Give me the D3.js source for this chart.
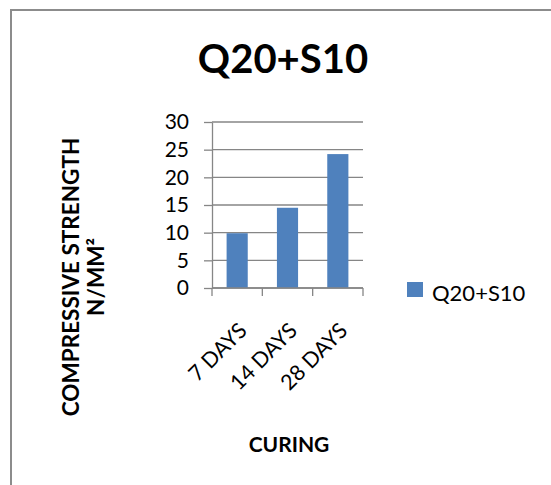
<!DOCTYPE html>
<html>
<head>
<meta charset="utf-8">
<script src="https://cdn.jsdelivr.net/npm/d3@7"></script>
<style>
  html, body { margin: 0; padding: 0; background: #fff; }
  svg { display: block; }
  text { font-family: Lato, "Open Sans", sans-serif; fill: #000; }
</style>
</head>
<body>
<svg id="chart" width="551" height="485"></svg>
<script>
// Compressive strength of the Q20+S10 mix at each curing age
const categories = ["7 DAYS", "14 DAYS", "28 DAYS"];
const seriesName = "Q20+S10";
const strengths = [9.9, 14.5, 24.2];
const yTicks = [0, 5, 10, 15, 20, 25, 30];

const svg = d3.select("#chart");
const gridColor = "#868686";
const barColor = "#4f81bd";

// Outer frame of the chart area
svg.append("rect")
  .attr("x", 11).attr("y", 10)
  .attr("width", 560).attr("height", 500)
  .attr("fill", "#fff")
  .attr("stroke", "#8c8c8c").attr("stroke-width", 2);

const plot = { left: 212, right: 363, top: 122, bottom: 288 };

const x = d3.scaleBand()
  .domain(categories)
  .range([plot.left, plot.right])
  .paddingInner(0.58)
  .paddingOuter(0.29);

const y = d3.scaleLinear()
  .domain([0, 30])
  .range([plot.bottom, plot.top]);

// Horizontal gridlines
svg.append("g")
  .selectAll("line")
  .data(yTicks)
  .join("line")
  .attr("x1", plot.left).attr("x2", plot.right)
  .attr("y1", d => y(d)).attr("y2", d => y(d))
  .attr("stroke", gridColor).attr("stroke-width", 1.3);

// Bars
svg.append("g")
  .selectAll("rect")
  .data(strengths)
  .join("rect")
  .attr("x", (d, i) => x(categories[i]))
  .attr("y", d => y(d))
  .attr("width", x.bandwidth())
  .attr("height", d => y(0) - y(d))
  .attr("fill", barColor);

// Y axis with outward tick marks
const yAxis = svg.append("g")
  .attr("transform", `translate(${plot.left},0)`)
  .call(d3.axisLeft(y).tickValues(yTicks).tickSize(8).tickSizeOuter(0).tickPadding(15));
yAxis.select(".domain").attr("stroke", gridColor).attr("stroke-width", 1.3);
yAxis.selectAll(".tick line").attr("stroke", gridColor).attr("stroke-width", 1.3);
yAxis.selectAll(".tick text")
  .style("font-size", "21px")
  .style("font-family", "Lato, sans-serif");

// X axis: baseline with tick marks at category boundaries
const xAxisG = svg.append("g");
xAxisG.append("line")
  .attr("x1", plot.left).attr("x2", plot.right)
  .attr("y1", y(0)).attr("y2", y(0))
  .attr("stroke", gridColor).attr("stroke-width", 1.3);
const boundaries = categories.map(c => x(c) - x.step() * x.paddingInner() / 2).concat([plot.right]);
boundaries[0] = plot.left;
xAxisG.selectAll("line.bound")
  .data(boundaries)
  .join("line")
  .attr("class", "bound")
  .attr("x1", d => d).attr("x2", d => d)
  .attr("y1", y(0)).attr("y2", y(0) + 8)
  .attr("stroke", gridColor).attr("stroke-width", 1.3);

// Rotated category labels
xAxisG.selectAll("text")
  .data(categories)
  .join("text")
  .attr("text-anchor", "end")
  .attr("transform", d => `translate(${x(d) + x.bandwidth() / 2 + 11},${y(0) + 44}) rotate(-45)`)
  .style("font-size", "21.5px")
  .text(d => d);

// Title
svg.append("text")
  .attr("x", 283).attr("y", 73)
  .attr("text-anchor", "middle")
  .style("font-size", "40px")
  .style("font-weight", "bold")
  .text(seriesName);

// Y axis title (two lines)
const yTitle = svg.append("text")
  .attr("transform", "translate(79,277) rotate(-90)")
  .attr("text-anchor", "middle")
  .style("font-size", "22.5px")
  .style("font-weight", "bold");
yTitle.append("tspan").attr("x", 0).attr("dy", 0).text("COMPRESSIVE STRENGTH");
yTitle.append("tspan").attr("x", 0).attr("dy", 25).text("N/MM²");

// X axis title
svg.append("text")
  .attr("x", 289).attr("y", 452)
  .attr("text-anchor", "middle")
  .style("font-size", "21px")
  .style("font-weight", "bold")
  .text("CURING");

// Legend
const legend = svg.append("g").attr("transform", "translate(407,282)");
legend.append("rect")
  .attr("width", 16).attr("height", 15)
  .attr("fill", barColor);
legend.append("text")
  .attr("x", 25).attr("y", 18.5)
  .style("font-size", "22px")
  .text(seriesName);
</script>
</body>
</html>
